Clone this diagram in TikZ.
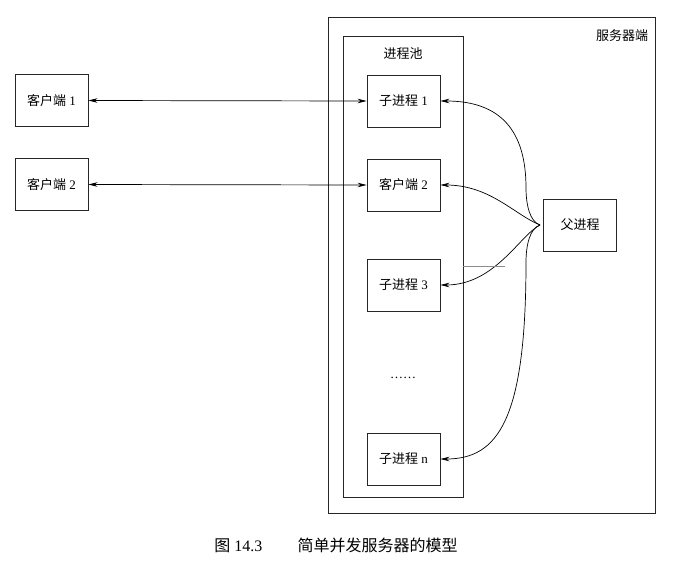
\documentclass[tikz,border=0pt]{standalone}
\usepackage{fontspec}
\setmainfont{Liberation Serif}
\newfontfamily\cjk{Noto Sans CJK SC}
\newcommand{\zh}[1]{{\cjk #1}}
\usetikzlibrary{arrows.meta}
\begin{document}
\begin{tikzpicture}[x=1pt,y=-1pt,
  box/.style={draw=black!85, line width=0.9pt, minimum width=73pt, minimum height=52pt, inner sep=0pt, font=\fontsize{13}{15}\selectfont},
  frame/.style={draw=black!85, line width=0.9pt},
  lbl/.style={font=\fontsize{13}{15}\selectfont, inner sep=0pt},
  arr/.style={line width=0.7pt, -{Stealth[length=9pt,width=4.5pt]}},
  darr/.style={line width=0.7pt, {Stealth[length=9pt,width=4.5pt]}-{Stealth[length=9pt,width=4.5pt]}}]
\useasboundingbox (0,0) rectangle (674,565);
% frames
\draw[frame] (328,17) rectangle (655,513);
\node[lbl] (srv) at (622,36) {\zh{服务器端}};
\draw[frame] (343,36) rectangle (463,497);
\node[lbl] (pool) at (403,54) {\zh{进程池}};
% child boxes
\node[box] (s1) at (403.5,101) {\zh{子进程} 1};
\node[box] (s2) at (403.5,185) {\zh{客户端} 2};
\node[box] (s3) at (403.5,285) {\zh{子进程} 3};
\node[lbl] (dots) at (403,378) {……};
\node[box] (sn) at (403.5,459) {\zh{子进程} n};
% clients
\node[box] (c1) at (51.5,100.5) {\zh{客户端} 1};
\node[box] (c2) at (51.5,184.5) {\zh{客户端} 2};
% parent
\node[box] (p) at (580,225) {\zh{父进程}};
% client links
\draw[darr] (c1.east) -- (s1.west);
\draw[darr] (c2.east) -- (s2.west);
% parent links
\coordinate (pw) at ([xshift=-3pt]p.west);
\draw[arr] (pw) .. controls (530,222) and (526,205) .. (526,188)
   .. controls (526,130) and (500,101) .. (s1.east);
\draw[arr] (pw) .. controls (515,215) and (490,185) .. (s2.east);
\draw[arr] (pw) .. controls (520,235) and (495,285) .. (s3.east);
\draw[arr] (pw) .. controls (530,228) and (526,245) .. (526,262)
   .. controls (526,420) and (498,459) .. (sn.east);
\draw[black!45, line width=0.5pt] (463,266) -- (505,266);
% caption
\node[font=\fontsize{16}{18}\selectfont, inner sep=0pt] (cap) at (336,545) {\zh{图} 14.3\hspace{2.2em}\zh{简单并发服务器的模型}};
\end{tikzpicture}
\end{document}
